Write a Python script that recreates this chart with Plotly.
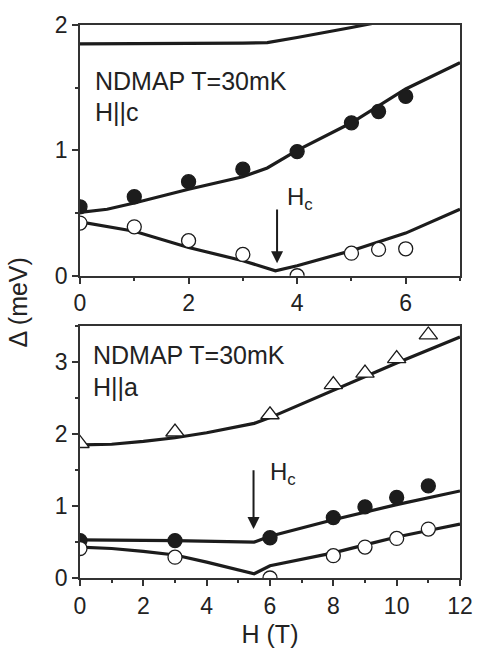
import plotly.graph_objects as go

# ---- Top panel: H || c ----
c_H_filled = [0, 1, 2, 3, 4, 5, 5.5, 6]
c_E_filled = [0.55, 0.63, 0.75, 0.85, 0.99, 1.22, 1.31, 1.43]
c_H_open = [0, 1, 2, 3, 4, 5, 5.5, 6]
c_E_open = [0.42, 0.39, 0.28, 0.17, 0.0, 0.18, 0.21, 0.215]

c_line_H_up = [0, 1, 2, 3, 3.45, 4, 5, 6, 7]
c_line_E_up = [1.85, 1.85, 1.85, 1.855, 1.86, 1.9, 1.98, 2.06, 2.15]
c_line_H_mid = [0, 0.5, 1, 2, 3, 3.45, 4, 5, 6, 7]
c_line_E_mid = [0.505, 0.53, 0.58, 0.69, 0.79, 0.86, 1.0, 1.22, 1.49, 1.70]
c_line_H_low = [0, 1, 2, 3, 3.6, 4, 5, 6, 7]
c_line_E_low = [0.43, 0.355, 0.225, 0.12, 0.04, 0.08, 0.2, 0.34, 0.53]

# ---- Bottom panel: H || a ----
a_H_tri = [0, 3, 6, 8, 9, 10, 11]
a_E_tri = [1.87, 2.03, 2.27, 2.69, 2.85, 3.05, 3.38]
a_H_filled = [0, 3, 6, 8, 9, 10, 11]
a_E_filled = [0.52, 0.52, 0.56, 0.84, 0.99, 1.12, 1.28]
a_H_open = [0, 3, 6, 8, 9, 10, 11]
a_E_open = [0.41, 0.29, 0.0, 0.31, 0.43, 0.55, 0.68]

a_line_H_up = [0, 1, 2, 3, 4, 5, 5.5, 6, 7, 8, 9, 10, 11, 12]
a_line_E_up = [1.85, 1.86, 1.9, 1.95, 2.02, 2.1, 2.15, 2.23, 2.42, 2.62, 2.8, 2.99, 3.17, 3.35]
a_line_H_mid = [0, 3, 5.5, 6, 8, 10, 12]
a_line_E_mid = [0.53, 0.52, 0.50, 0.58, 0.81, 1.02, 1.21]
a_line_H_low = [0, 1, 2, 3, 4, 5, 5.5, 6, 7, 8, 9, 10, 11, 12]
a_line_E_low = [0.43, 0.41, 0.37, 0.32, 0.22, 0.12, 0.06, 0.17, 0.26, 0.35, 0.46, 0.57, 0.66, 0.75]

LC = "#1c1c1c"
W, H = 485, 659
ML, MR, MT, MB = 80, 19, 20, 81
PW, PH = W - ML - MR, H - MT - MB

fig = go.Figure()

def line(x, y, xa, ya):
    fig.add_trace(go.Scatter(x=x, y=y, mode="lines", xaxis=xa, yaxis=ya,
                             line=dict(color=LC, width=3.2), showlegend=False))

def pts(x, y, xa, ya, symbol, filled):
    fig.add_trace(go.Scatter(x=x, y=y, mode="markers", xaxis=xa, yaxis=ya,
                             marker=dict(symbol=symbol, size=14 if symbol == "circle" else 16,
                                         color=LC if filled else "white",
                                         line=dict(color=LC, width=1.3)),
                             showlegend=False))

line(c_line_H_up, c_line_E_up, "x", "y")
line(c_line_H_mid, c_line_E_mid, "x", "y")
line(c_line_H_low, c_line_E_low, "x", "y")
pts(c_H_filled, c_E_filled, "x", "y", "circle", True)
pts(c_H_open, c_E_open, "x", "y", "circle", False)

line(a_line_H_up, a_line_E_up, "x2", "y2")
line(a_line_H_mid, a_line_E_mid, "x2", "y2")
line(a_line_H_low, a_line_E_low, "x2", "y2")
pts(a_H_tri, a_E_tri, "x2", "y2", "triangle-up", False)
pts(a_H_filled, a_E_filled, "x2", "y2", "circle", True)
pts(a_H_open, a_E_open, "x2", "y2", "circle", False)

FONT = "Liberation Sans, Arial, sans-serif"
axcommon = dict(showline=True, linecolor="#333", linewidth=1.8, mirror=True,
                ticks="outside", ticklen=6, tickwidth=1.8, tickcolor="#333",
                showgrid=False, zeroline=False,
                tickfont=dict(family=FONT, size=23, color="#222"))
minor_t = dict(ticks="outside", ticklen=3, tickwidth=1.5, tickcolor="#333")

def ydom(top_px, bot_px):
    return [(H - MB - bot_px) / PH, (H - MB - top_px) / PH]

fig.update_layout(
    width=W, height=H,
    margin=dict(l=ML, r=MR, t=MT, b=MB),
    plot_bgcolor="white", paper_bgcolor="white",
    font=dict(family=FONT, color="#222"),
    xaxis=dict(domain=[0, 1], anchor="y", range=[0, 7], dtick=2,
               minor=dict(dtick=1, **minor_t), **axcommon),
    yaxis=dict(domain=ydom(20, 273), anchor="x", range=[0, 2], dtick=1,
               minor=dict(dtick=0.5, **minor_t), **axcommon),
    xaxis2=dict(domain=[0, 1], anchor="y2", range=[0, 12], dtick=2,
                minor=dict(dtick=1, **minor_t),
                title=dict(text="H (T)", font=dict(family=FONT, size=25, color="#222"), standoff=8),
                **axcommon),
    yaxis2=dict(domain=ydom(324, 578), anchor="x2", range=[0, 3.5], dtick=1,
                minor=dict(dtick=0.5, **minor_t), **axcommon),
)

def px(xp):
    return (xp - ML) / PW

def py(yp):
    return (H - MB - yp) / PH

annots = [
    dict(x=93, y=77, text="NDMAP T=30mK"),
    dict(x=93, y=108, text="H||c"),
    dict(x=91, y=353, text="NDMAP T=30mK"),
    dict(x=91, y=385, text="H||a"),
]
for a in annots:
    fig.add_annotation(x=px(a["x"]), y=py(a["y"]), xref="paper", yref="paper",
                       text=a["text"], showarrow=False, xanchor="left", yanchor="middle",
                       font=dict(family=FONT, size=25, color="#222"))

fig.add_annotation(x=px(18), y=py(300), xref="paper", yref="paper",
                   text="Δ (meV)", showarrow=False, textangle=-90,
                   xanchor="center", yanchor="middle",
                   font=dict(family=FONT, size=25, color="#222"))

fig.add_annotation(x=3.63, y=0.1, ax=3.63, ay=0.54, xref="x", yref="y", axref="x", ayref="y",
                   text="", showarrow=True, arrowhead=2, arrowsize=1.2, arrowwidth=2, arrowcolor=LC)
fig.add_annotation(x=3.78, y=0.62, xref="x", yref="y", text="H<sub>c</sub>", showarrow=False,
                   xanchor="left", yanchor="middle", font=dict(family=FONT, size=24, color="#222"))
fig.add_annotation(x=5.48, y=0.68, ax=5.48, ay=1.52, xref="x2", yref="y2", axref="x2", ayref="y2",
                   text="", showarrow=True, arrowhead=2, arrowsize=1.2, arrowwidth=2, arrowcolor=LC)
fig.add_annotation(x=5.95, y=1.45, xref="x2", yref="y2", text="H<sub>c</sub>", showarrow=False,
                   xanchor="left", yanchor="middle", font=dict(family=FONT, size=24, color="#222"))

fig.write_html("out.html", config={"displayModeBar": False},
               post_script="document.body.style.margin='0';document.body.style.overflow='hidden';")
